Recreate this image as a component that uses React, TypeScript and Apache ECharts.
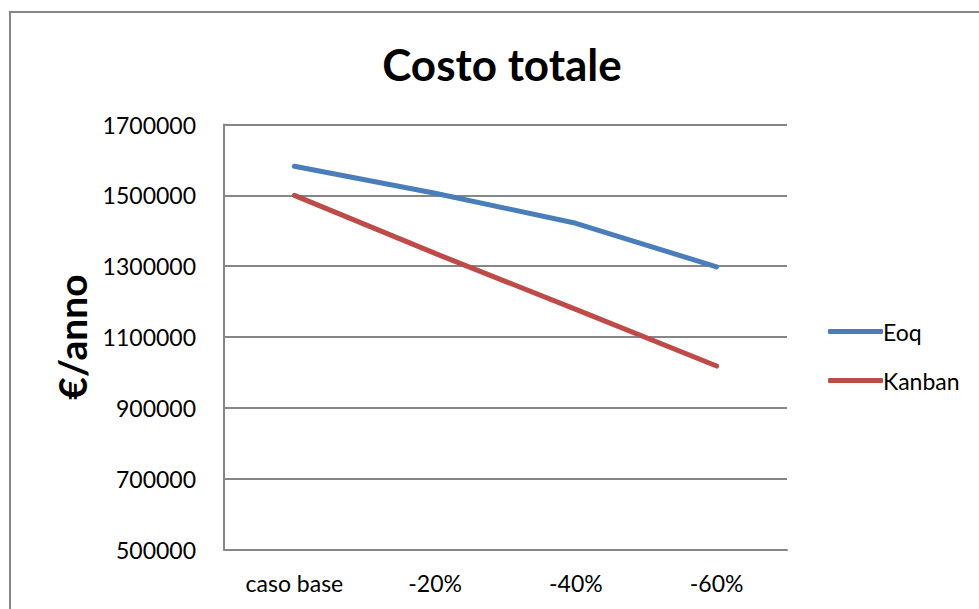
import React, { useEffect, useRef } from "react";
import * as echarts from "echarts";

const categories = ["caso base", "-20%", "-40%", "-60%"];
const eoq = [1582000, 1506000, 1421000, 1298000];
const kanban = [1500000, 1336000, 1178000, 1018000];
const yMin = 500000;
const yMax = 1700000;
const yStep = 200000;

const FONT = "Lato, 'Open Sans', sans-serif";

export default function App() {
  const ref = useRef<HTMLDivElement>(null);
  useEffect(() => {
    if (!ref.current) return;
    const chart = echarts.init(ref.current, null, { renderer: "svg" });
    chart.setOption({
      animation: false,
      backgroundColor: "#ffffff",
      title: {
        text: "Costo totale",
        left: 497,
        textAlign: "center",
        top: 37,
        textStyle: { fontFamily: FONT, fontWeight: "bold", fontSize: 44, color: "#000" },
      },
      graphic: [
        {
          type: "rect",
          shape: { x: 10, y: 12, width: 1000, height: 620 },
          style: { fill: "none", stroke: "#868686", lineWidth: 2 },
          silent: true,
        },
      ],
      legend: {
        orient: "vertical",
        left: 823,
        top: 315,
        icon: "roundRect",
        itemWidth: 55,
        itemHeight: 5,
        itemGap: 26,
        textStyle: { fontFamily: FONT, fontSize: 23, color: "#000", padding: [0, 0, 0, -5] },
        data: ["Eoq", "Kanban"],
      },
      grid: { left: 224, right: 192, top: 124.5, bottom: 59.5, containLabel: false },
      xAxis: {
        type: "category",
        data: categories,
        boundaryGap: true,
        axisLine: { show: true, lineStyle: { color: "#868686", width: 2 } },
        axisTick: { show: false },
        axisLabel: { fontFamily: FONT, fontSize: 23, color: "#000", margin: 22 },
      },
      yAxis: {
        type: "value",
        min: yMin,
        max: yMax,
        interval: yStep,
        name: "€/anno",
        nameLocation: "middle",
        nameGap: 128,
        nameTextStyle: { fontFamily: FONT, fontWeight: "bold", fontSize: 39, color: "#000" },
        axisLine: { show: true, lineStyle: { color: "#868686", width: 2 } },
        axisTick: { show: false },
        axisLabel: {
          fontFamily: FONT,
          fontSize: 23,
          color: "#000",
          margin: 28,
          formatter: (v: number) => String(v),
        },
        splitLine: { lineStyle: { color: "#868686", width: 2 } },
      },
      series: [
        {
          name: "Eoq",
          type: "line",
          data: eoq,
          symbol: "none",
          lineStyle: { color: "#4A7EBB", width: 5, cap: "round" },
          itemStyle: { color: "#4A7EBB" },
        },
        {
          name: "Kanban",
          type: "line",
          data: kanban,
          symbol: "none",
          lineStyle: { color: "#BE4B48", width: 5, cap: "round" },
          itemStyle: { color: "#BE4B48" },
        },
      ],
    });
    return () => chart.dispose();
  }, []);
  return (
    <div
      ref={ref}
      style={{ position: "fixed", left: 0, top: 0, width: 979, height: 609 }}
    />
  );
}
